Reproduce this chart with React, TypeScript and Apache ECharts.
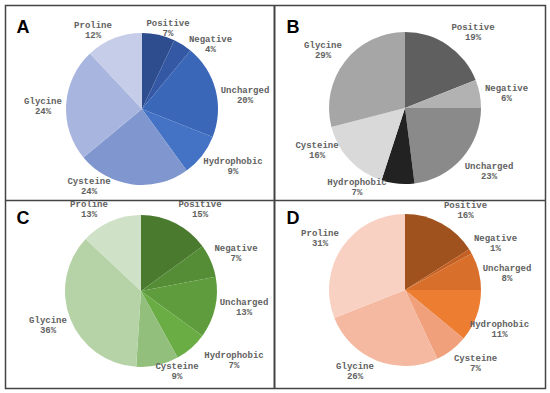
import React, { useEffect, useRef } from "react";
import * as echarts from "echarts";

const categories = ["Positive", "Negative", "Uncharged", "Hydrophobic", "Cysteine", "Glycine", "Proline"];
const valuesA = [7, 4, 20, 9, 24, 24, 12];
const valuesB = [19, 6, 23, 7, 16, 29, 0];
const valuesC = [15, 7, 13, 7, 9, 36, 13];
const valuesD = [16, 1, 8, 11, 7, 26, 31];
const panelLetters = ["A", "B", "C", "D"];

const colorsA = ["#2e4d8f", "#3458a4", "#3a67b7", "#4472c4", "#7f96cf", "#a8b5df", "#c5cde9"];
const colorsB = ["#5f5f5f", "#b2b2b2", "#8a8a8a", "#222222", "#d9d9d9", "#a6a6a6", "#cccccc"];
const colorsC = ["#4a7a2e", "#548d36", "#5f9c3d", "#6aad45", "#93bf7c", "#b5d3a6", "#cfe1c6"];
const colorsD = ["#a0521e", "#c35f22", "#d86f2b", "#ed7d31", "#f0a07a", "#f4b9a0", "#f8d1c3"];

// layout: pie centres and label offsets (relative to pie centre)
const centers = [[142, 109], [405, 108], [141, 291], [405, 290]];
const radius = 76;
const labelOffsets = [
  [[26, -80], [68.5, -64], [103, -13], [91, 58], [-53, 78], [-99, -2], [-49, -78]],
  [[68, -75], [101.5, -14], [84, 64], [-48, 80], [-88, 43], [-82, -57], [0, 0]],
  [[59, -81], [95, -37], [103, 17], [93, 70], [36, 81], [-93, 35], [-52, -81]],
  [[60.5, -79], [90.5, -46], [102, -16], [94.5, 40], [70.5, 74], [-50, 82], [-85, -51]],
];
const letterPos = [[23, 27], [293, 27], [23, 218], [293, 218]];

export default function App() {
  const ref = useRef<HTMLDivElement>(null);
  useEffect(() => {
    if (!ref.current) return;
    const chart = echarts.init(ref.current, null, { renderer: "svg" });
    const allValues = [valuesA, valuesB, valuesC, valuesD];
    const allColors = [colorsA, colorsB, colorsC, colorsD];
    const series = allValues.map((vals, p) => ({
      type: "pie",
      center: centers[p],
      radius: radius,
      startAngle: 90,
      clockwise: true,
      silent: true,
      data: categories
        .map((c, i) => ({ name: c, value: vals[i], itemStyle: { color: allColors[p][i] } }))
        .filter((d) => d.value > 0),
      label: {
        show: true,
        position: "outside",
        formatter: "{b}\n{c}%",
        fontFamily: "Liberation Mono",
        fontWeight: "bold",
        fontSize: 9,
        lineHeight: 10,
        color: "#626262",
        overflow: "none",
        width: 80,
      },
      labelLine: { show: false },
      labelLayout: (params: any) => {
        const name = categories.indexOf(String(params.text).split("\n")[0]);
        const off = labelOffsets[p][name] || [0, 0];
        return {
          x: centers[p][0] + off[0],
          y: centers[p][1] + off[1],
          align: "center",
          verticalAlign: "middle",
        };
      },
      itemStyle: { borderWidth: 0 },
      emphasis: { disabled: true },
    }));
    const graphic: any[] = [
      { type: "rect", shape: { x: 5.5, y: 5.5, width: 540, height: 383 }, style: { fill: "none", stroke: "#444", lineWidth: 1.5 } },
      { type: "line", shape: { x1: 274.5, y1: 5.5, x2: 274.5, y2: 388.5 }, style: { stroke: "#444", lineWidth: 2 } },
      { type: "line", shape: { x1: 5.5, y1: 200.5, x2: 545.5, y2: 200.5 }, style: { stroke: "#444", lineWidth: 1.5 } },
      ...panelLetters.map((l, i) => ({
        type: "text",
        x: letterPos[i][0],
        y: letterPos[i][1],
        style: {
          text: l,
          fontFamily: "Liberation Sans",
          fontWeight: "bold",
          fontSize: 18,
          fill: "#000",
          align: "center",
          verticalAlign: "middle",
        },
      })),
    ];
    chart.setOption({ animation: false, backgroundColor: "#fff", series, graphic });
    return () => chart.dispose();
  }, []);
  return <div ref={ref} style={{ position: "fixed", left: 0, top: 0, width: 550, height: 393 }} />;
}
